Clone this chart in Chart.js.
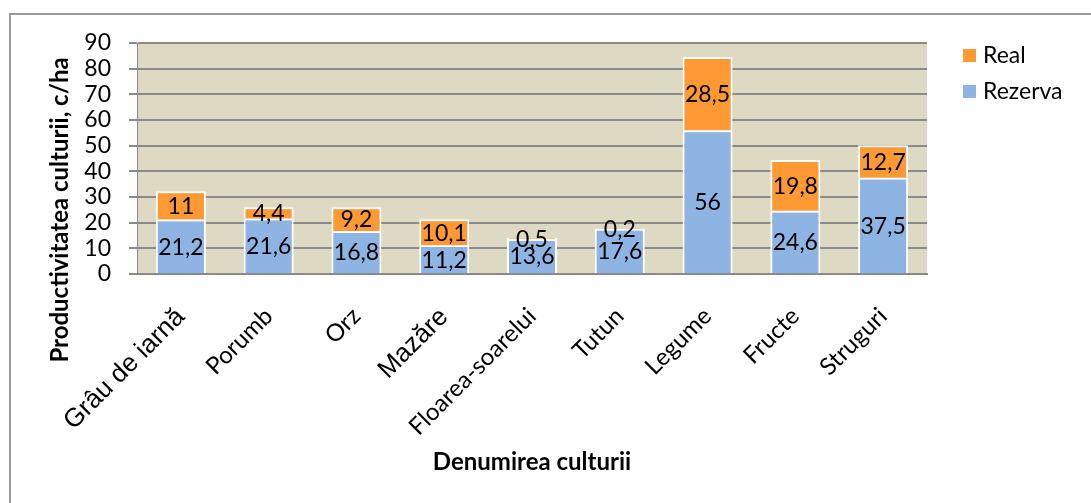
<!DOCTYPE html>
<html>
<head>
<meta charset="utf-8">
<script src="https://cdn.jsdelivr.net/npm/chart.js@4/dist/chart.umd.min.js"></script>
<style>
  html, body { margin: 0; padding: 0; background: #ffffff; }
  #wrap { width: 1091px; height: 503px; position: relative; }
</style>
</head>
<body>
<div id="wrap"><canvas id="c" width="1091" height="503"></canvas></div>
<script>
const categories = ["Grâu de iarnă", "Porumb", "Orz", "Mazăre", "Floarea-soarelui", "Tutun", "Legume", "Fructe", "Struguri"];
const rezerva = [21.2, 21.6, 16.8, 11.2, 13.6, 17.6, 56, 24.6, 37.5];
const real = [11, 4.4, 9.2, 10.1, 0.5, 0.2, 28.5, 19.8, 12.7];
const seriesNames = ["Rezerva", "Real"];
const seriesColors = ["#8EB4E3", "#FF9933"];
const yTitle = "Productivitatea culturii, c/ha";
const xTitle = "Denumirea culturii";

const FONT = "Lato";

const decorPlugin = {
  id: 'decor',
  beforeDraw(chart) {
    const ctx = chart.ctx, a = chart.chartArea;
    ctx.save();
    ctx.fillStyle = '#ffffff';
    ctx.fillRect(0, 0, chart.width, chart.height);
    ctx.fillStyle = '#DDD9C3';
    ctx.fillRect(a.left, a.top, a.right - a.left, a.bottom - a.top);
    ctx.strokeStyle = '#9a9a9a';
    ctx.lineWidth = 2;
    ctx.beginPath();
    ctx.moveTo(10, chart.height);
    ctx.lineTo(10, 14);
    ctx.lineTo(chart.width, 14);
    ctx.stroke();
    ctx.restore();
  },
  afterDraw(chart) {
    const ctx = chart.ctx;
    ctx.save();
    ctx.translate(60, 210);
    ctx.rotate(-Math.PI / 2);
    ctx.font = "bold 24px " + FONT;
    ctx.fillStyle = '#000';
    ctx.textAlign = 'center';
    ctx.textBaseline = 'middle';
    ctx.fillText(yTitle, 0, 0);
    ctx.restore();
    ctx.save();
    ctx.font = "23px " + FONT;
    ctx.textBaseline = 'middle';
    ctx.textAlign = 'left';
    const order = [1, 0];
    order.forEach((di, k) => {
      const ds = chart.data.datasets[di];
      const y = 56 + k * 36;
      ctx.fillStyle = ds.backgroundColor;
      ctx.fillRect(963, y - 7, 13, 13);
      ctx.fillStyle = '#000';
      ctx.fillText(ds.label, 983, y);
    });
    ctx.restore();
  },
  afterDatasetsDraw(chart) {
    const ctx = chart.ctx;
    ctx.save();
    ctx.font = "23px " + FONT;
    ctx.fillStyle = '#000';
    ctx.textAlign = 'center';
    ctx.textBaseline = 'middle';
    chart.data.datasets.forEach((ds, di) => {
      const meta = chart.getDatasetMeta(di);
      meta.data.forEach((el, i) => {
        const v = ds.data[i];
        const txt = String(v).replace('.', ',');
        ctx.fillText(txt, el.x, (el.y + el.base) / 2 + 1);
      });
    });
    ctx.restore();
  }
};

new Chart(document.getElementById('c'), {
  type: 'bar',
  data: {
    labels: categories,
    datasets: [
      { label: seriesNames[0], data: rezerva, backgroundColor: seriesColors[0], borderColor: '#ffffff', borderWidth: 2, categoryPercentage: 1, barPercentage: 0.57 },
      { label: seriesNames[1], data: real, backgroundColor: seriesColors[1], borderColor: '#ffffff', borderWidth: 2, categoryPercentage: 1, barPercentage: 0.57 }
    ]
  },
  options: {
    responsive: false,
    animation: false,
    devicePixelRatio: 1,
    layout: { padding: { left: 10, top: 43, right: 164, bottom: 10 } },
    plugins: { legend: { display: false }, tooltip: { enabled: false } },
    scales: {
      x: {
        stacked: true,
        grid: { display: false, drawTicks: false },
        border: { display: true, color: '#8a8a8a', width: 2 },
        ticks: {
          color: '#000',
          maxRotation: 45, minRotation: 45,
          autoSkip: false,
          padding: 28,
          font: (ctx) => (ctx.index === 0 || ctx.index === 3) ? { family: "Liberation Sans", size: 26 } : { family: FONT, size: 24 }
        },
        title: { display: true, text: xTitle, color: '#000', font: { family: FONT, size: 24, weight: 'bold' }, padding: { top: 4, bottom: 16 } },
        afterFit(s) { s.height = 219; s.paddingLeft = 0; s.paddingRight = 0; }
      },
      y: {
        stacked: true,
        min: 0, max: 90,
        ticks: { stepSize: 10, autoSkip: false, color: '#000', padding: 18, font: { family: FONT, size: 23 } },
        grid: { color: '#8a8a8a', lineWidth: 2, tickLength: 8 },
        border: { display: true, color: '#8a8a8a', width: 1 },
        afterFit(s) { s.width = 127; s.paddingTop = 0; s.paddingBottom = 0; }
      }
    }
  },
  plugins: [decorPlugin]
});
</script>
</body>
</html>
